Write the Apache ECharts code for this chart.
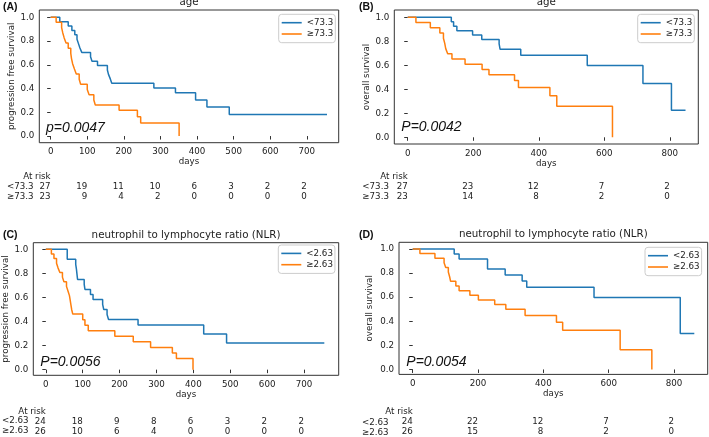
<!DOCTYPE html>
<html><head><meta charset="utf-8">
<script src="https://cdn.jsdelivr.net/npm/echarts@6/dist/echarts.min.js"></script>
<style>html,body{margin:0;padding:0;background:#fff}#c{width:709px;height:437px}</style>
</head><body><div id="c"></div>
<script>
// ---------- data ----------
const ticksA = [0,100,200,300,400,500,600,700];
const ticksB = [0,200,400,600,800];
const yTicks = [0,0.2,0.4,0.6,0.8,1.0];

// (A) progression free survival by age
const A_young_days = [0,25,48,58,66,72,76,80,85,109,113,128,155,158,163,167,282,341,396,427,488,755];
const A_young_surv = [1,0.963,0.926,0.889,0.852,0.815,0.778,0.741,0.704,0.667,0.630,0.593,0.556,0.519,0.481,0.444,0.404,0.364,0.303,0.245,0.182,0.182];
const A_old_days = [0,15,30,33,37,42,48,55,57,60,65,70,78,82,100,105,118,122,187,237,246,351];
const A_old_surv = [1,0.957,0.913,0.870,0.826,0.783,0.739,0.696,0.652,0.609,0.565,0.522,0.478,0.435,0.391,0.348,0.304,0.261,0.217,0.163,0.109,0];
const A_risk_young = [27,19,11,10,6,3,2,2];
const A_risk_old = [23,9,4,2,0,0,0,0];

// (B) overall survival by age
const B_young_days = [0,133,140,150,198,226,279,282,345,548,718,805,848];
const B_young_surv = [1,0.963,0.926,0.889,0.852,0.815,0.778,0.733,0.684,0.598,0.449,0.225,0.225];
const B_old_days = [0,25,69,98,109,113,116,122,135,175,227,248,326,338,434,455,625];
const B_old_surv = [1,0.957,0.913,0.870,0.826,0.783,0.739,0.696,0.652,0.609,0.565,0.522,0.474,0.415,0.346,0.259,0];
const B_risk_young = [27,23,12,7,2];
const B_risk_old = [23,14,8,2,0];

// (C) progression free survival by NLR
const C_low_days = [0,58,81,83,86,104,106,121,128,154,157,166,170,250,428,490,755];
const C_low_surv = [1,0.917,0.875,0.833,0.75,0.708,0.667,0.625,0.583,0.542,0.5,0.458,0.417,0.370,0.296,0.222,0.222];
const C_high_days = [0,15,22,29,33,38,45,49,56,60,64,66,68,70,73,100,106,115,187,237,284,343,354,399];
const C_high_surv = [1,0.962,0.923,0.885,0.846,0.808,0.769,0.731,0.692,0.654,0.615,0.577,0.538,0.5,0.462,0.415,0.369,0.323,0.277,0.231,0.185,0.139,0.092,0];
const C_risk_low = [24,18,9,8,6,3,2,2];
const C_risk_high = [26,10,6,4,0,0,0,0];

// (D) overall survival by NLR
const D_low_days = [0,127,142,229,283,335,349,555,819,862];
const D_low_surv = [1,0.958,0.917,0.833,0.783,0.733,0.683,0.597,0.299,0.299];
const D_high_days = [0,22,68,96,101,109,113,116,132,142,175,201,251,285,344,440,459,635,732];
const D_high_surv = [1,0.962,0.923,0.885,0.846,0.808,0.769,0.731,0.692,0.654,0.615,0.577,0.538,0.5,0.447,0.391,0.326,0.163,0];
const D_risk_low = [24,22,12,7,2];
const D_risk_high = [26,15,8,2,0];

const groupsAge = ['<73.3','≥73.3'];
const groupsNLR = ['<2.63','≥2.63'];
const titles = ['age','age','neutrophil to lymphocyte ratio (NLR)','neutrophil to lymphocyte ratio (NLR)'];
const yNames = ['progression free survival','overall survival','progression free survival','overall survival'];
const panelLabels = ['(A)','(B)','(C)','(D)'];
const pValues = ['p=0.0047','P=0.0042','P=0.0056','P=0.0054'];

// ---------- layout (styles) ----------
const BLUE = '#1f77b4', ORANGE = '#ff7f0e', TXT = '#222', FS = 8.7;
const panels = [
  {grid:{left:39.3,top:10,width:299.4,height:132.7}, xr:[-31,787], yr:[-0.056,1.061], ticks:ticksA,
   s1:[A_young_days,A_young_surv], s2:[A_old_days,A_old_surv], r1:A_risk_young, r2:A_risk_old, names:groupsAge,
   tabOff:29, rowX:7, rowY:181.7, legend:{left:278.7,top:14.3}, yGap:23, pX:46, pY:128},
  {grid:{left:394.3,top:10,width:304,height:134}, xr:[-41,887], yr:[-0.056,1.061], ticks:ticksB,
   s1:[B_young_days,B_young_surv], s2:[B_old_days,B_old_surv], r1:B_risk_young, r2:B_risk_old, names:groupsAge,
   tabOff:27.7, rowX:362.3, rowY:181.7, legend:{left:637.7,top:14.3}, yGap:23, pX:401.3, pY:127},
  {grid:{left:33.3,top:242.7,width:305.4,height:132.6}, xr:[-34,794], yr:[-0.047,1.055], ticks:ticksA,
   s1:[C_low_days,C_low_surv], s2:[C_high_days,C_high_surv], r1:C_risk_low, r2:C_risk_high, names:groupsNLR,
   tabOff:31.7, rowX:2, rowY:416, legend:{left:278.3,top:245}, yGap:23, pX:40.3, pY:362.5},
  {grid:{left:399,top:242.3,width:308.7,height:134.4}, xr:[-42,903], yr:[-0.041,1.055], ticks:ticksB,
   s1:[D_low_days,D_low_surv], s2:[D_high_days,D_high_surv], r1:D_risk_low, r2:D_risk_high, names:groupsNLR,
   tabOff:32.6, rowX:362, rowY:418, legend:{left:645,top:247.3}, yGap:25, pX:406.3, pY:362.5}
];

const option = {animation:false, textStyle:{fontFamily:'DejaVu Sans'},
  grid:[], xAxis:[], yAxis:[], series:[], legend:[], graphic:[]};

panels.forEach((p, i) => {
  const g = p.grid;
  option.grid.push(Object.assign({show:true, borderColor:'#333', borderWidth:1, containLabel:false}, g));
  option.xAxis.push({type:'value', gridIndex:i, min:p.xr[0], max:p.xr[1], position:'bottom',
    name:'days', nameLocation:'middle', nameGap:15, nameTextStyle:{fontSize:FS, color:TXT},
    axisLine:{show:false}, splitLine:{show:false},
    axisTick:{show:true, length:3.5, customValues:p.ticks, lineStyle:{color:'#333'}},
    axisLabel:{customValues:p.ticks, margin:5, fontSize:FS, color:TXT}});
  const ticks = p.ticks, r1 = p.r1, r2 = p.r2;
  option.xAxis.push({type:'value', gridIndex:i, min:p.xr[0], max:p.xr[1], position:'bottom', offset:p.tabOff,
    axisLine:{show:false}, axisTick:{show:false}, splitLine:{show:false},
    axisLabel:{customValues:ticks, margin:0, align:'right', verticalAlign:'top', fontSize:FS, lineHeight:10, color:TXT,
      formatter:(v) => { const k = ticks.indexOf(v); if (k < 0) return '';
        return (k === 0 ? 'At risk' : '') + '\n' + r1[k] + '\n' + r2[k]; }}});
  option.yAxis.push({type:'value', gridIndex:i, min:p.yr[0], max:p.yr[1],
    name:yNames[i], nameLocation:'middle', nameGap:p.yGap, nameTextStyle:{fontSize:FS, color:TXT},
    axisLine:{show:false}, splitLine:{show:false},
    axisTick:{show:true, length:3.5, customValues:yTicks, lineStyle:{color:'#333'}},
    axisLabel:{customValues:yTicks, margin:5, fontSize:FS, color:TXT, formatter:(v)=>v.toFixed(1)}});
  [[p.s1, BLUE, p.names[0]], [p.s2, ORANGE, p.names[1]]].forEach(([s, col, nm]) => {
    option.series.push({type:'line', name:nm, xAxisIndex:2*i, yAxisIndex:i, step:'end', symbol:'none',
      color:col, lineStyle:{color:col, width:1.5}, itemStyle:{color:col},
      data:s[0].map((d, k) => [d, s[1][k]])});
  });
  option.legend.push({data:p.names, orient:'vertical', left:p.legend.left, top:p.legend.top,
    icon:'rect', padding:[3.4,2,3.7,3], itemGap:1.3, itemWidth:20, itemHeight:1.6,
    textStyle:{fontSize:FS, lineHeight:10, color:TXT},
    backgroundColor:'rgba(255,255,255,0.8)', borderColor:'#ccc', borderWidth:1, borderRadius:3});
  const cx = g.left + g.width / 2;
  option.graphic.push({type:'text', x:cx, y:g.top - 7.5, style:{text:titles[i], fontSize:10.3, fontFamily:'DejaVu Sans', fill:TXT, align:'center', verticalAlign:'middle'}});
  option.graphic.push({type:'text', x:(i % 2 ? 359 : 3), y:(i < 2 ? 6.7 : 235), style:{text:panelLabels[i], fontSize:10.5, fontWeight:'bold', fontFamily:'Liberation Sans', fill:'#111', align:'left', verticalAlign:'middle'}});
  option.graphic.push({type:'text', x:p.pX, y:p.pY, style:{text:pValues[i], fontSize:14, fontStyle:'italic', fontFamily:'Liberation Sans', fill:'#111', align:'left', verticalAlign:'middle'}});
  option.graphic.push({type:'text', x:p.rowX, y:p.rowY, style:{text:p.names[0] + '\n' + p.names[1], fontSize:FS, lineHeight:10, fontFamily:'DejaVu Sans', fill:TXT, align:'left', verticalAlign:'top'}});
});

const chart = echarts.init(document.getElementById('c'), null, {renderer:'canvas'});
chart.setOption(option);
</script></body></html>
